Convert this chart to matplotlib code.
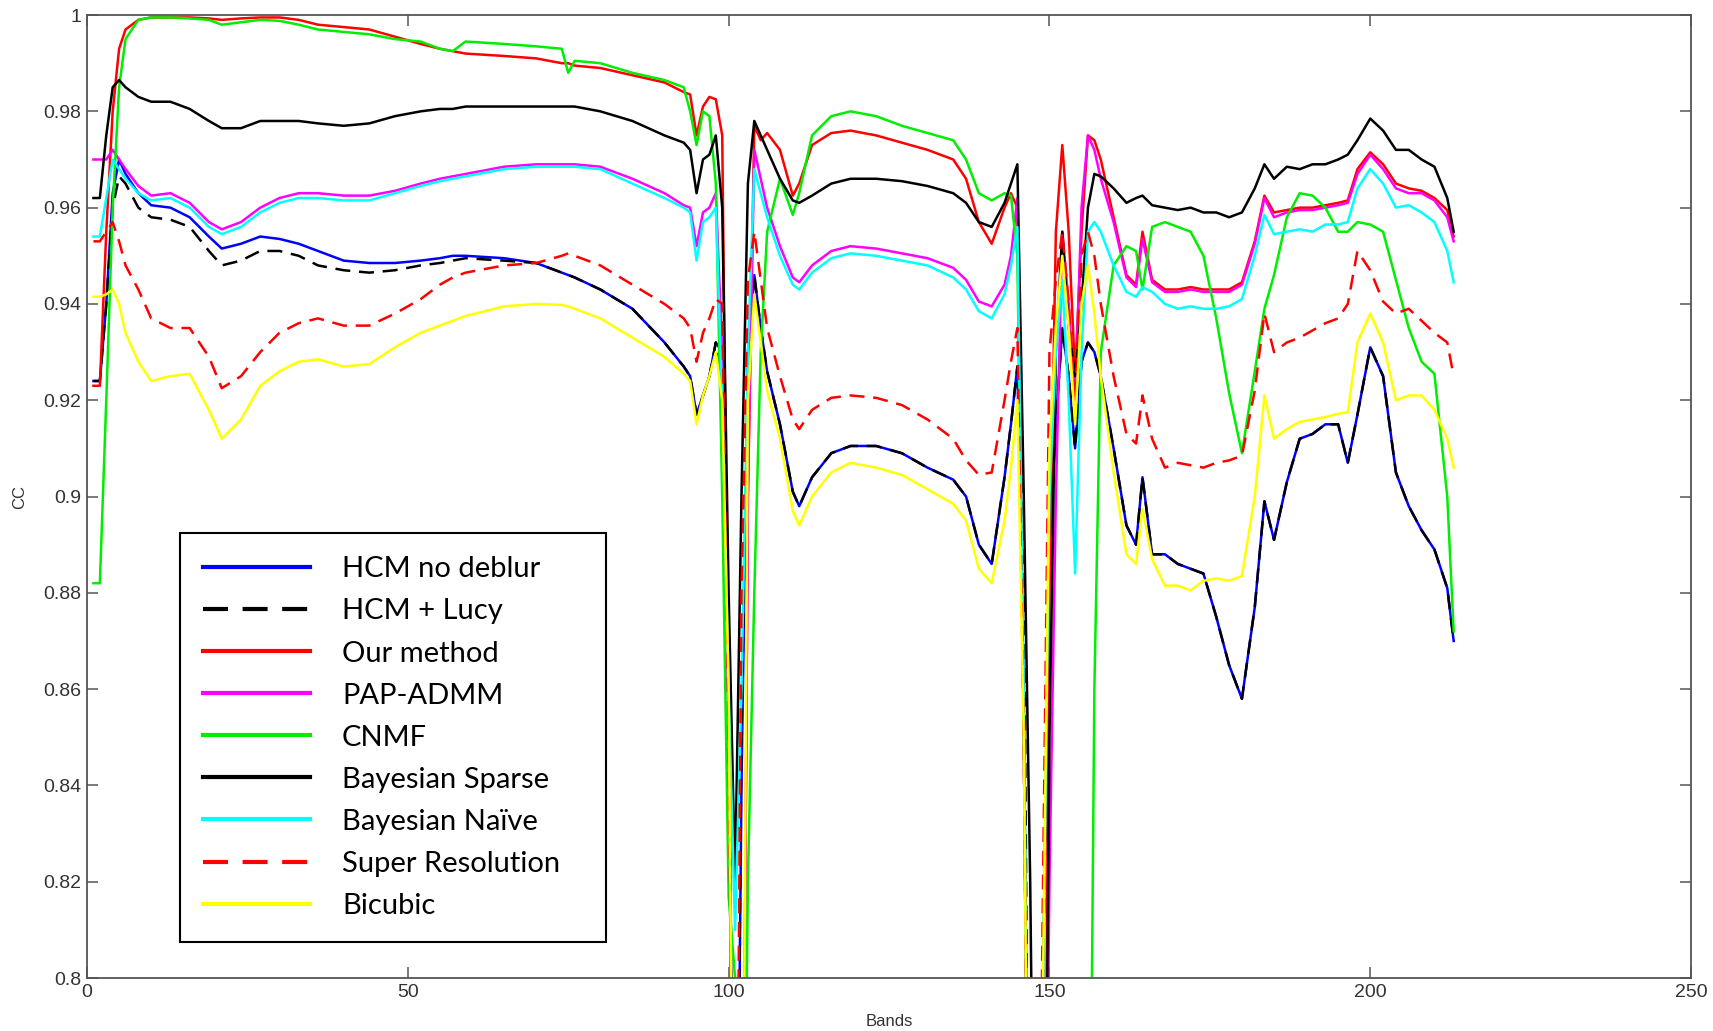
import numpy as np
import matplotlib
matplotlib.use("Agg")
from matplotlib import pyplot as plt

# band positions shared by every curve
bands = [1, 2, 3, 4, 5, 6,
         8, 10, 13, 16, 19, 21,
         24, 27, 30, 33, 36, 40,
         44, 48, 52, 55, 57, 59,
         65, 70, 74, 75, 76, 80,
         85, 90, 93, 94, 95, 96,
         97, 98, 99, 100, 101, 102,
         103, 104, 105, 106, 108, 110,
         111, 113, 116, 119, 123, 127,
         131, 135, 137, 139, 141, 143,
         144, 145, 146, 147, 148, 149,
         150, 151, 152, 153, 154, 155,
         156, 157, 158, 160, 162, 163.5,
         164.5, 166, 168, 170, 172, 174,
         176, 178, 180, 182, 183.5, 185,
         187, 189, 191, 193, 195, 196.5,
         198, 200, 202, 204, 206, 208,
         210, 212, 213]

L = 0.7  # off the bottom of the plot

hcm_no_deblur = [0.924, 0.924, 0.940, 0.963, 0.970, 0.967,
                 0.963, 0.9605, 0.960, 0.958, 0.954, 0.9515,
                 0.9525, 0.954, 0.9535, 0.9525, 0.951, 0.949,
                 0.9485, 0.9485, 0.949, 0.9495, 0.950, 0.950,
                 0.9495, 0.9485, 0.9465, 0.946, 0.9455, 0.943,
                 0.939, 0.932, 0.927, 0.925, 0.917, 0.921,
                 0.925, 0.932, 0.930, 0.87, L, 0.84,
                 0.93, 0.946, 0.935, 0.926, 0.915, 0.901,
                 0.898, 0.904, 0.909, 0.9105, 0.9105, 0.909,
                 0.906, 0.9035, 0.900, 0.890, 0.886, 0.904,
                 0.915, 0.927, 0.86, L, L, 0.80,
                 0.89, 0.915, 0.935, 0.925, 0.91, 0.928,
                 0.932, 0.930, 0.925, 0.910, 0.894, 0.890,
                 0.904, 0.888, 0.888, 0.886, 0.885, 0.884,
                 0.875, 0.865, 0.858, 0.877, 0.899, 0.891,
                 0.903, 0.912, 0.913, 0.915, 0.915, 0.907,
                 0.917, 0.931, 0.925, 0.905, 0.898, 0.893,
                 0.889, 0.881, 0.870]

hcm_lucy = [0.924, 0.924, 0.940, 0.960, 0.9665, 0.965,
            0.960, 0.958, 0.9575, 0.956, 0.951, 0.948,
            0.949, 0.951, 0.951, 0.950, 0.948, 0.947,
            0.9465, 0.947, 0.948, 0.9485, 0.949, 0.9495,
            0.949, 0.9485, 0.9465, 0.946, 0.9455, 0.943,
            0.939, 0.932, 0.927, 0.925, 0.917, 0.921,
            0.925, 0.932, 0.925, 0.86, L, 0.85,
            0.93, 0.946, 0.935, 0.926, 0.915, 0.901,
            0.898, 0.904, 0.909, 0.9105, 0.9105, 0.909,
            0.906, 0.9035, 0.900, 0.890, 0.886, 0.904,
            0.915, 0.927, 0.89, L, L, 0.80,
            0.89, 0.915, 0.935, 0.925, 0.91, 0.928,
            0.932, 0.930, 0.925, 0.910, 0.894, 0.890,
            0.904, 0.888, 0.888, 0.886, 0.885, 0.884,
            0.875, 0.865, 0.858, 0.877, 0.899, 0.891,
            0.903, 0.912, 0.913, 0.915, 0.915, 0.907,
            0.917, 0.931, 0.925, 0.905, 0.898, 0.893,
            0.889, 0.881, 0.870]

our_method = [0.923, 0.923, 0.955, 0.980, 0.993, 0.997,
              0.999, 0.9995, 0.9995, 0.9995, 0.9993, 0.999,
              0.9993, 0.9995, 0.9995, 0.999, 0.998, 0.9975,
              0.997, 0.9955, 0.994, 0.993, 0.9925, 0.992,
              0.9915, 0.991, 0.990, 0.990, 0.9895, 0.989,
              0.9875, 0.986, 0.984, 0.9835, 0.975, 0.981,
              0.983, 0.9825, 0.975, 0.85, L, L,
              0.90, 0.977, 0.974, 0.9755, 0.972, 0.9625,
              0.965, 0.973, 0.9755, 0.976, 0.975, 0.9735,
              0.972, 0.970, 0.966, 0.957, 0.9525, 0.960,
              0.963, 0.960, 0.85, L, L, L,
              0.88, 0.955, 0.973, 0.955, 0.925, 0.955,
              0.975, 0.974, 0.970, 0.958, 0.946, 0.944,
              0.955, 0.945, 0.943, 0.943, 0.9435, 0.943,
              0.943, 0.943, 0.9445, 0.953, 0.9625, 0.959,
              0.9595, 0.960, 0.960, 0.9605, 0.961, 0.9615,
              0.968, 0.9715, 0.969, 0.965, 0.964, 0.9635,
              0.962, 0.9595, 0.954]

pap_admm = [0.970, 0.970, 0.970, 0.972, 0.970, 0.968,
            0.9645, 0.9625, 0.963, 0.961, 0.957, 0.9555,
            0.957, 0.960, 0.962, 0.963, 0.963, 0.9625,
            0.9625, 0.9635, 0.965, 0.966, 0.9665, 0.967,
            0.9685, 0.969, 0.969, 0.969, 0.969, 0.9685,
            0.966, 0.963, 0.9605, 0.960, 0.952, 0.959,
            0.960, 0.963, 0.93, 0.85, L, L,
            0.90, 0.972, 0.966, 0.960, 0.952, 0.9455,
            0.9445, 0.948, 0.951, 0.952, 0.9515, 0.9505,
            0.9495, 0.9475, 0.945, 0.9405, 0.9395, 0.944,
            0.950, 0.962, 0.85, L, L, L,
            0.82, 0.90, 0.955, 0.94, 0.92, 0.96,
            0.975, 0.972, 0.966, 0.957, 0.9455, 0.9435,
            0.9535, 0.9445, 0.9425, 0.9425, 0.943, 0.9425,
            0.9425, 0.9425, 0.944, 0.9525, 0.962, 0.958,
            0.959, 0.9595, 0.9595, 0.960, 0.9605, 0.961,
            0.967, 0.971, 0.968, 0.964, 0.963, 0.963,
            0.9615, 0.958, 0.953]

cnmf = [0.882, 0.882, 0.920, 0.960, 0.985, 0.995,
        0.999, 0.9995, 0.9995, 0.9993, 0.999, 0.998,
        0.9985, 0.999, 0.9988, 0.998, 0.997, 0.9965,
        0.996, 0.995, 0.9945, 0.993, 0.9925, 0.9945,
        0.994, 0.9935, 0.993, 0.988, 0.9905, 0.990,
        0.988, 0.9865, 0.985, 0.980, 0.973, 0.980,
        0.979, 0.965, 0.90, 0.817, 0.80, L,
        0.82, 0.88, 0.93, 0.955, 0.966, 0.9585,
        0.963, 0.975, 0.979, 0.980, 0.979, 0.977,
        0.9755, 0.974, 0.970, 0.963, 0.9615, 0.963,
        0.9625, 0.95, 0.85, L, L, L,
        L, L, L, L, L, L,
        L, 0.86, 0.93, 0.948, 0.952, 0.951,
        0.943, 0.956, 0.957, 0.956, 0.955, 0.950,
        0.937, 0.9215, 0.909, 0.926, 0.939, 0.946,
        0.958, 0.963, 0.9625, 0.960, 0.955, 0.955,
        0.957, 0.9565, 0.955, 0.945, 0.935, 0.928,
        0.9255, 0.90, 0.872]

bayes_sparse = [0.962, 0.962, 0.975, 0.985, 0.9865, 0.985,
                0.983, 0.982, 0.982, 0.9805, 0.978, 0.9765,
                0.9765, 0.978, 0.978, 0.978, 0.9775, 0.977,
                0.9775, 0.979, 0.980, 0.9805, 0.9805, 0.981,
                0.981, 0.981, 0.981, 0.981, 0.981, 0.980,
                0.978, 0.975, 0.9735, 0.972, 0.963, 0.970,
                0.971, 0.975, 0.96, 0.88, 0.82, 0.90,
                0.965, 0.978, 0.975, 0.972, 0.966, 0.9615,
                0.961, 0.9625, 0.965, 0.966, 0.966, 0.9655,
                0.9645, 0.963, 0.961, 0.957, 0.956, 0.961,
                0.965, 0.969, 0.90, 0.82, L, L,
                0.85, 0.93, 0.955, 0.935, 0.925, 0.94,
                0.96, 0.967, 0.9665, 0.964, 0.961, 0.962,
                0.9625, 0.9605, 0.960, 0.9595, 0.960, 0.959,
                0.959, 0.958, 0.959, 0.964, 0.969, 0.966,
                0.9685, 0.968, 0.969, 0.969, 0.970, 0.971,
                0.974, 0.9785, 0.976, 0.972, 0.972, 0.970,
                0.9685, 0.962, 0.955]

bayes_naive = [0.954, 0.954, 0.962, 0.970, 0.968, 0.966,
               0.963, 0.9615, 0.962, 0.960, 0.956, 0.9545,
               0.956, 0.959, 0.961, 0.962, 0.962, 0.9615,
               0.9615, 0.963, 0.9645, 0.9655, 0.966, 0.9665,
               0.968, 0.9685, 0.9685, 0.9685, 0.9685, 0.968,
               0.965, 0.962, 0.960, 0.959, 0.949, 0.957,
               0.958, 0.960, 0.92, 0.86, 0.81, 0.86,
               0.93, 0.968, 0.963, 0.958, 0.950, 0.944,
               0.943, 0.9465, 0.9495, 0.9505, 0.950, 0.949,
               0.948, 0.9455, 0.943, 0.9385, 0.937, 0.942,
               0.948, 0.956, 0.86, L, L, 0.80,
               0.90, 0.93, 0.945, 0.92, 0.884, 0.93,
               0.955, 0.957, 0.955, 0.948, 0.9425, 0.9415,
               0.9435, 0.9425, 0.940, 0.939, 0.9395, 0.939,
               0.939, 0.9395, 0.941, 0.950, 0.9585, 0.9545,
               0.955, 0.9555, 0.955, 0.9565, 0.9565, 0.957,
               0.964, 0.968, 0.965, 0.960, 0.9605, 0.959,
               0.957, 0.951, 0.9445]

super_res = [0.953, 0.953, 0.955, 0.957, 0.953, 0.948,
             0.943, 0.937, 0.935, 0.935, 0.929, 0.9225,
             0.925, 0.930, 0.934, 0.936, 0.937, 0.9355,
             0.9355, 0.938, 0.941, 0.944, 0.9455, 0.9465,
             0.948, 0.9485, 0.950, 0.9505, 0.950, 0.948,
             0.944, 0.940, 0.937, 0.935, 0.928, 0.934,
             0.937, 0.941, 0.94, 0.85, L, 0.88,
             0.945, 0.955, 0.945, 0.935, 0.925, 0.916,
             0.914, 0.918, 0.9205, 0.921, 0.9205, 0.919,
             0.916, 0.912, 0.9075, 0.9045, 0.905, 0.92,
             0.928, 0.935, 0.85, L, L, 0.82,
             0.93, 0.945, 0.955, 0.94, 0.92, 0.95,
             0.955, 0.950, 0.940, 0.925, 0.913, 0.911,
             0.921, 0.912, 0.906, 0.907, 0.9065, 0.906,
             0.907, 0.9075, 0.9085, 0.922, 0.938, 0.930,
             0.932, 0.933, 0.9345, 0.936, 0.937, 0.940,
             0.951, 0.947, 0.9405, 0.938, 0.939, 0.9365,
             0.934, 0.932, 0.925]

bicubic = [0.9415, 0.9415, 0.942, 0.943, 0.940, 0.934,
           0.928, 0.924, 0.925, 0.9255, 0.918, 0.912,
           0.916, 0.923, 0.926, 0.928, 0.9285, 0.927,
           0.9275, 0.931, 0.934, 0.9355, 0.9365, 0.9375,
           0.9395, 0.940, 0.9398, 0.9395, 0.939, 0.937,
           0.933, 0.929, 0.9255, 0.924, 0.915, 0.921,
           0.925, 0.93, 0.92, 0.86, L, L,
           0.92, 0.942, 0.932, 0.922, 0.912, 0.897,
           0.894, 0.900, 0.905, 0.907, 0.906, 0.9045,
           0.9015, 0.8985, 0.895, 0.885, 0.882, 0.895,
           0.906, 0.92, 0.85, L, L, 0.80,
           0.91, 0.935, 0.95, 0.935, 0.915, 0.94,
           0.948, 0.938, 0.925, 0.905, 0.888, 0.886,
           0.8975, 0.887, 0.8815, 0.8815, 0.8805, 0.8825,
           0.883, 0.8825, 0.8835, 0.900, 0.921, 0.912,
           0.914, 0.9155, 0.916, 0.9165, 0.9172, 0.9175,
           0.932, 0.938, 0.932, 0.920, 0.921, 0.921,
           0.918, 0.912, 0.906]

series = [
    ("HCM no deblur", hcm_no_deblur, "#0000ff", "-"),
    ("HCM + Lucy", hcm_lucy, "#000000", "--"),
    ("Our method", our_method, "#ff0000", "-"),
    ("PAP-ADMM", pap_admm, "#ff00ff", "-"),
    ("CNMF", cnmf, "#00ee00", "-"),
    ("Bayesian Sparse", bayes_sparse, "#000000", "-"),
    ("Bayesian Naïve", bayes_naive, "#00ffff", "-"),
    ("Super Resolution", super_res, "#ff0000", "--"),
    ("Bicubic", bicubic, "#ffff00", "-"),
]

fig = plt.figure(figsize=(17.13, 10.31), dpi=100)
ax = fig.add_axes([0.0508, 0.0514, 0.9364, 0.934])

x = np.array(bands)
for name, vals, col, ls in series:
    line, = ax.plot(x, vals, color=col, ls=ls, lw=1.8, label=name)
    if ls == "--":
        line.set_dashes((6, 3.5))

ax.set_xlim(0, 250)
ax.set_ylim(0.8, 1.0)
ax.set_xticks(np.arange(0, 251, 50))
ax.set_yticks(np.arange(0.8, 1.001, 0.02))
ax.set_yticklabels(["0.8", "0.82", "0.84", "0.86", "0.88", "0.9",
                    "0.92", "0.94", "0.96", "0.98", "1"])

tick_font = ["Liberation Sans Narrow", "Liberation Sans", "DejaVu Sans"]
for s in ax.spines.values():
    s.set_color("#555555")
    s.set_linewidth(1.3)
ax.tick_params(direction="in", length=8, width=1.1, colors="#555555",
               labelcolor="#333333", labelsize=14, top=True, right=True, pad=4)
for lab in ax.get_xticklabels() + ax.get_yticklabels():
    lab.set_family(tick_font)

ax.set_xlabel("Bands", fontsize=12, family=tick_font, color="#333333", labelpad=10)
ax.set_ylabel("CC", fontsize=12, family=tick_font, color="#333333", labelpad=12)

leg = ax.legend(loc="upper left", bbox_to_anchor=(0.058, 0.039, 0.2656, 0.423),
                mode="expand", prop={"family": ["Lato", "DejaVu Sans"], "size": 21},
                handlelength=3.65, handletextpad=1.1, labelspacing=0.55,
                borderpad=0.8, borderaxespad=0, fancybox=False, framealpha=1)
leg.get_frame().set_edgecolor("black")
leg.get_frame().set_linewidth(1.5)
for h in leg.get_lines():
    h.set_linewidth(3)

fig.savefig("out.png", dpi=100)
